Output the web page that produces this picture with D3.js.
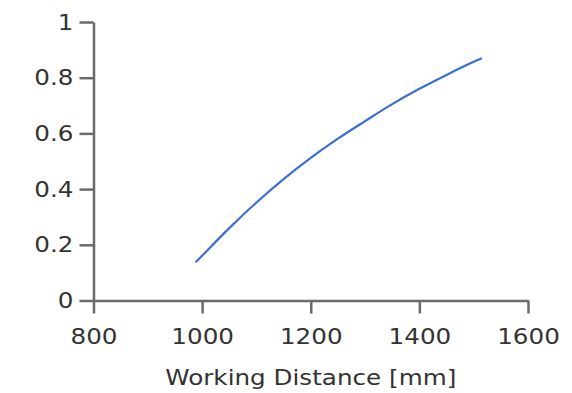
<!DOCTYPE html>
<html lang="en">
    <head>
        <meta charset="utf-8">
        <title>Working Distance</title>
        <script src="https://d3js.org/d3.v7.min.js"></script>
        <style>
            body {
                margin: 0;
                background: white;
            }
            .axis path,
            .axis line {
                fill: none;
                stroke: #6b6b6b;
                stroke-width: 2.5;
            }
            .axis text {
                font-family: "DejaVu Sans", sans-serif;
                font-size: 22px;
                fill: #333;
            }
            .title {
                font-family: "DejaVu Sans", sans-serif;
                font-size: 22px;
                fill: #333;
            }
            .line {
                fill: none;
                stroke: #3b6fd4;
                stroke-width: 2.2;
            }
        </style>
    </head>
    <body>
        <div id="chart"></div>
        <script type="text/javascript">
            // data
            var distance = [988, 1000, 1050, 1100, 1150, 1200, 1250, 1300, 1350, 1400, 1450, 1500, 1515];
            var ratio = [0.137, 0.161, 0.260, 0.352, 0.436, 0.512, 0.581, 0.644, 0.705, 0.760, 0.810, 0.857, 0.870];
            var xTicks = [800, 1000, 1200, 1400, 1600];
            var yTicks = [0, 0.2, 0.4, 0.6, 0.8, 1];

            var w = 572;
            var h = 393;
            var stretch = 1.12; // the text in the picture is a bit wide

            var svg = d3.select("#chart").append("svg").attr("width", w).attr("height", h);

            var xScale = d3.scaleLinear().domain([800, 1600]).range([93.5, 528]);
            var yScale = d3.scaleLinear().domain([0, 1]).range([300.5, 22]);

            var xAxis = d3.axisBottom(xScale).tickValues(xTicks).tickSize(13).tickSizeOuter(0).tickPadding(15)
                .tickFormat(d3.format("d"));
            var yAxis = d3.axisLeft(yScale).tickValues(yTicks).tickSize(14).tickSizeOuter(0).tickPadding(6)
                .tickFormat(function(d) { return d === 0 || d === 1 ? d : d3.format(".1f")(d); });

            svg.append("g").attr("class", "axis").attr("transform", "translate(0," + yScale(0) + ")").call(xAxis);
            svg.append("g").attr("class", "axis").attr("transform", "translate(" + xScale(800) + ",0)").call(yAxis);

            // widen the labels a little
            svg.selectAll(".axis text").attr("transform", "scale(" + stretch + ",1)")
                .attr("x", function() { return +d3.select(this).attr("x") / stretch; });

            var points = distance.map(function(d, i) { return [d, ratio[i]]; });
            var line = d3.line()
                .x(function(d) { return xScale(d[0]); })
                .y(function(d) { return yScale(d[1]); })
                .curve(d3.curveMonotoneX);

            svg.append("path").datum(points).attr("class", "line").attr("d", line);

            var cx = (xScale(800) + xScale(1600)) / 2;
            svg.append("text").attr("class", "title")
                .attr("transform", "translate(" + cx + ",385) scale(" + stretch + ",1)")
                .attr("text-anchor", "middle")
                .text("Working Distance [mm]");
        </script>
    </body>
</html>
